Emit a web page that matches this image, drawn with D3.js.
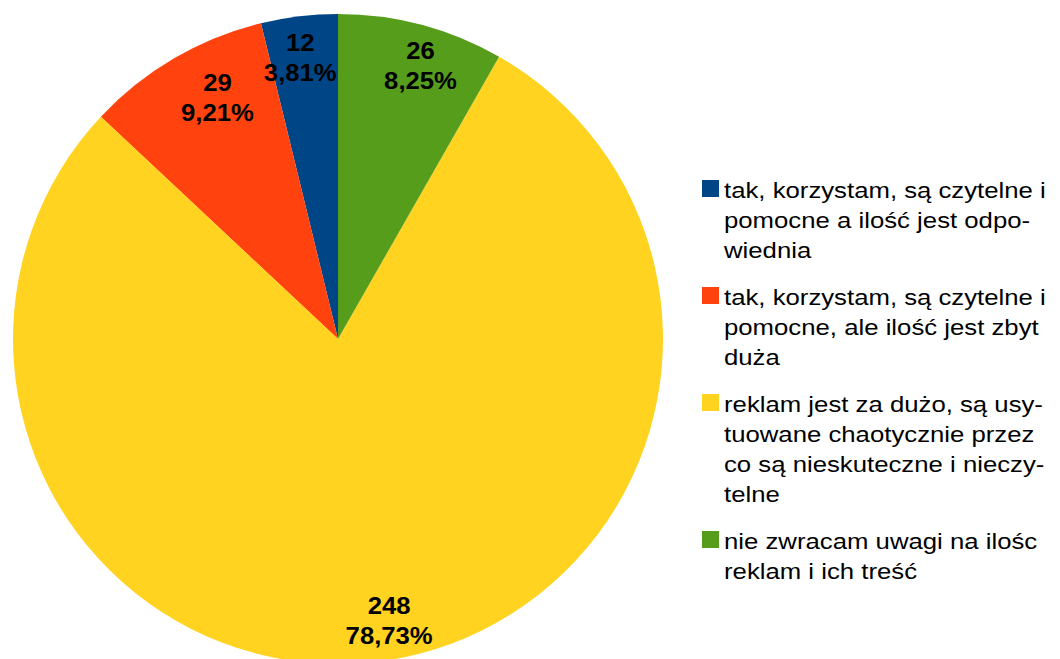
<!DOCTYPE html>
<html>
<head>
<meta charset="utf-8">
<script src="https://cdn.jsdelivr.net/npm/d3@7"></script>
<style>
  body { margin: 0; background: #fff; }
  svg { display: block; font-family: "Liberation Sans", Arial, sans-serif; }
</style>
</head>
<body>
<svg id="chart" width="1060" height="659"></svg>
<script>
// answers, counter-clockwise from 12 o'clock (same as legend order)
var categories = [
  ["tak, korzystam, są czytelne i", "pomocne a ilość jest odpo-", "wiednia"],
  ["tak, korzystam, są czytelne i", "pomocne, ale ilość jest zbyt", "duża"],
  ["reklam jest za dużo, są usy-", "tuowane chaotycznie przez", "co są nieskuteczne i nieczy-", "telne"],
  ["nie zwracam uwagi na ilośc", "reklam i ich treść"]
];
var values = [12, 29, 248, 26];
var colors = ["#004586", "#ff420e", "#ffd320", "#579d1c"];
// small nudges of the value labels off the slice centroid
var labelNudge = [[-4, 0], [22, 3], [9, 2], [10, 0]];

var svg = d3.select("#chart");
var cx = 338, cy = 339, r = 325;
var total = d3.sum(values);

var pie = d3.pie().sort(null).startAngle(0).endAngle(-2 * Math.PI);
var arcs = pie(values);
var arc = d3.arc().innerRadius(0).outerRadius(r);
var labelArc = d3.arc().innerRadius(r * 0.87).outerRadius(r * 0.87);

var g = svg.append("g").attr("transform", "translate(" + cx + "," + cy + ")");

g.selectAll("path.slice")
  .data(arcs)
  .enter().append("path")
  .attr("class", "slice")
  .attr("d", arc)
  .attr("fill", function (d, i) { return colors[i]; });

function pct(v) {
  return (v / total * 100).toFixed(2).replace(".", ",") + "%";
}

var labels = g.selectAll("text.lbl")
  .data(arcs)
  .enter().append("text")
  .attr("class", "lbl")
  .attr("text-anchor", "middle")
  .attr("font-weight", "bold")
  .attr("font-size", 24)
  .attr("fill", "#000")
  .attr("transform", function (d, i) {
    var c = labelArc.centroid(d);
    return "translate(" + (c[0] + labelNudge[i][0]) + "," + (c[1] + labelNudge[i][1]) + ") scale(1.07,1)";
  });

labels.append("tspan").attr("x", 0).attr("y", -7).text(function (d) { return d.value; });
labels.append("tspan").attr("x", 0).attr("y", 23).text(function (d) { return pct(d.value); });

// legend
var lineH = 30, gap = 47;
var legend = svg.append("g");
var y = 198;
categories.forEach(function (lines, i) {
  var item = legend.append("g");
  item.append("rect")
    .attr("x", 702).attr("y", y - 18)
    .attr("width", 17).attr("height", 17)
    .attr("fill", colors[i]);
  var t = item.append("text")
    .attr("font-size", 22)
    .attr("fill", "#000")
    .attr("transform", "translate(724,0) scale(1.17,1)");
  lines.forEach(function (s, j) {
    t.append("tspan").attr("x", 0).attr("y", y + j * lineH).text(s);
  });
  y += (lines.length - 1) * lineH + gap;
});
</script>
</body>
</html>
